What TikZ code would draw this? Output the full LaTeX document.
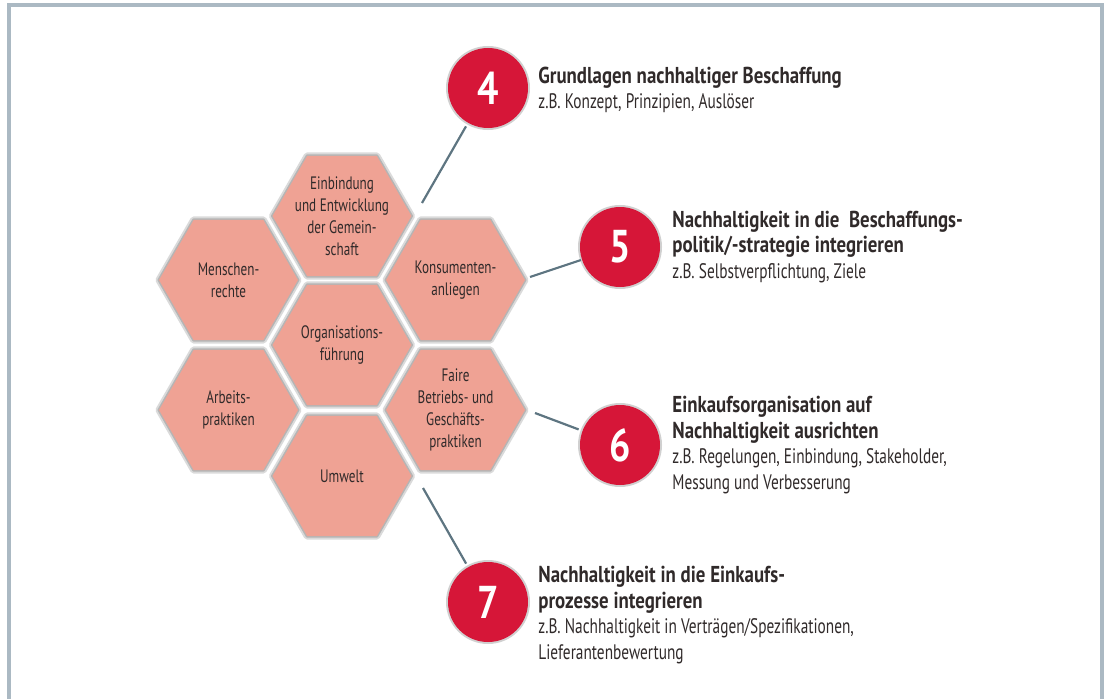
\documentclass[tikz,border=0pt]{standalone}
\usepackage{fontspec}
\setmainfont{PT Sans}[FakeStretch=0.73, BoldFeatures={FakeStretch=0.82}]
\usepackage{tikz}
\usetikzlibrary{shapes.geometric,positioning}

\definecolor{hexfill}{RGB}{239,162,148}
\definecolor{hexshade}{RGB}{150,150,150}
\definecolor{numred}{RGB}{214,22,56}
\definecolor{linkgray}{RGB}{94,117,129}
\definecolor{framegray}{RGB}{171,185,195}
\definecolor{txtdark}{RGB}{48,42,42}

\newcommand{\stephead}[1]{{\fontsize{23}{25.5}\selectfont\bfseries #1}}

\begin{document}
\begin{tikzpicture}[
  x=1pt, y=-1pt,
  hexa/.style={regular polygon, regular polygon sides=6, minimum size=139pt, inner sep=0pt, fill=hexfill,
    preaction={draw=hexshade!35, line width=7pt, line join=round},
    preaction={draw=hexshade!70, line width=3pt, line join=round}},
  hextext/.style={font=\fontsize{18}{22}\selectfont, text=txtdark, align=center, inner sep=0pt},
  num/.style={circle, minimum size=80pt, inner sep=0pt, fill=numred, text=white,
    font=\fontsize{46}{46}\selectfont\bfseries, preaction={draw=hexshade!45, line width=4pt}},
  info/.style={align=left, anchor=west, text=txtdark, inner sep=0pt, font=\fontsize{21}{25.5}\selectfont},
  link/.style={draw=linkgray, line width=2.2pt, shorten >=4pt},
]
\useasboundingbox (0,0) rectangle (1107,698);

%% --- frame ---
\draw[framegray, line width=4pt] (9,705) -- (9,5.5) -- (1101.5,5.5) -- (1101.5,705);

%% --- honeycomb ---
\node[hexa] (einb)   at (342,216)   {};
\node[hexa] (mensch) at (228.5,280) {};
\node[hexa] (konsum) at (455.5,280) {};
\node[hexa] (orga)   at (342,345)   {};
\node[hexa] (arbeit) at (228.5,410) {};
\node[hexa] (faire)  at (455.5,410) {};
\node[hexa] (umwelt) at (342,476)   {};

\node[hextext] (einb-t)   at (einb)   {Einbindung\\und Entwicklung\\der Gemein-\\schaft};
\node[hextext] (mensch-t) at (mensch) {Menschen-\\rechte};
\node[hextext] (konsum-t) at (konsum) {Konsumenten-\\anliegen};
\node[hextext] (orga-t)   at (orga)   {Organisations-\\führung};
\node[hextext] (arbeit-t) at (arbeit) {Arbeits-\\praktiken};
\node[hextext] (faire-t)  at (faire)  {Faire\\Betriebs- und\\Geschäfts-\\praktiken};
\node[hextext] (umwelt-t) at (umwelt) {Umwelt};

%% --- numbered steps ---
\node[num] (n4) at (488,88)  {4};
\node[num] (n5) at (620,247) {5};
\node[num] (n6) at (620,445) {6};
\node[num] (n7) at (488,602) {7};

\node[info, right=10pt of n4, yshift=-2pt] (t4) {\stephead{Grundlagen nachhaltiger Beschaffung}\\
  z.B. Konzept, Prinzipien, Auslöser};
\node[info, right=12pt of n5] (t5) {\stephead{Nachhaltigkeit in die\ \ Beschaffungs-}\\
  \stephead{politik/-strategie integrieren}\\
  z.B. Selbstverpflichtung, Ziele};
\node[info, right=12pt of n6] (t6) {\stephead{Einkaufsorganisation auf}\\
  \stephead{Nachhaltigkeit ausrichten}\\
  z.B. Regelungen, Einbindung, Stakeholder,\\
  Messung und Verbesserung};
\node[info, right=10pt of n7, yshift=-13pt] (t7) {\stephead{Nachhaltigkeit in die Einkaufs-}\\
  \stephead{prozesse integrieren}\\
  z.B. Nachhaltigkeit in Verträgen/Spezifikationen,\\
  Lieferantenbewertung};

%% --- connectors ---
\coordinate (c4) at (422,203);
\coordinate (c5) at (530,277);
\coordinate (c6) at (535,413);
\coordinate (c7) at (423,488);
\draw[link] (c4) -- (n4);
\draw[link, shorten >=1pt] (c5) -- (n5);
\draw[link] (c6) -- (n6);
\draw[link] (c7) -- (n7);

\end{tikzpicture}
\end{document}
